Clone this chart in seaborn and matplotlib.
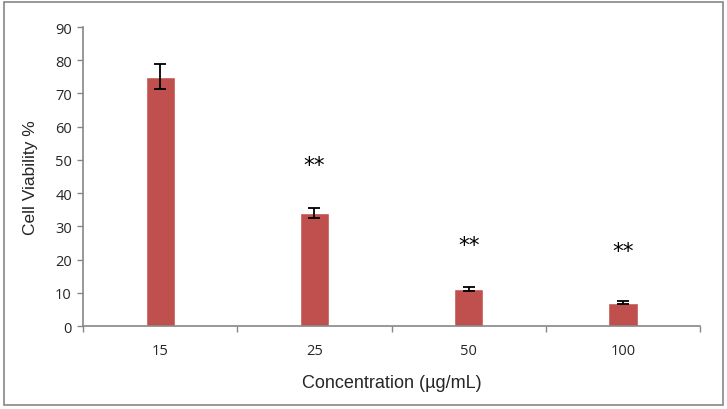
import numpy as np
import pandas as pd
import matplotlib
matplotlib.use("Agg")
import matplotlib.pyplot as plt
import seaborn as sns
from matplotlib.patches import Rectangle

sns.set_theme(style="white")
plt.rcParams['font.family'] = ['Open Sans', 'DejaVu Sans']

concentrations = ["15", "25", "50", "100"]
viability = [75, 34, 11, 7]
viability_err = [3.8, 1.6, 0.6, 0.4]
stars = ["", "**", "**", "**"]
star_y = [None, 48.5, 24.5, 22.5]

df = pd.DataFrame({"conc": concentrations, "viab": viability})

fig = plt.figure(figsize=(7.27, 4.10), dpi=100)
ax = fig.add_axes([0.1142, 0.2024, 0.8488, 0.7293])

sns.barplot(data=df, x="conc", y="viab", order=concentrations, color="#C0504D",
            saturation=1, width=0.19, errorbar=None, ax=ax)
ax.errorbar(np.arange(len(concentrations)), viability, yerr=viability_err,
            fmt="none", ecolor="black", elinewidth=1.3, capsize=4, capthick=1.3)
for i, s in enumerate(stars):
    if s:
        ax.text(i, star_y[i], s, ha="center", va="center", fontsize=15.5,
                color="black", family="DejaVu Sans")

ax.set_xlim(-0.5, len(concentrations) - 0.5)
ax.set_ylim(0, 90)
ax.set_yticks(range(0, 91, 10))
ax.set_xticks(np.arange(-0.5, len(concentrations), 1.0), minor=True)
ax.tick_params(axis="x", which="major", length=0, pad=12, labelsize=10.5)
ax.tick_params(axis="x", which="minor", length=4, width=1, color="#868686", direction="out", bottom=True)
ax.tick_params(axis="y", which="major", length=4, width=1, color="#868686", direction="out", left=True, labelsize=10.5, pad=4)
for side in ["top", "right"]:
    ax.spines[side].set_visible(False)
for side in ["left", "bottom"]:
    ax.spines[side].set_color("#868686")
    ax.spines[side].set_linewidth(1.2)

ax.set_xlabel("Concentration (µg/mL)", fontsize=13, labelpad=12, family="Liberation Sans")
ax.set_ylabel("Cell Viability %", fontsize=12.5, labelpad=12, family="Liberation Sans")

fig.patches.append(Rectangle((0.005, 0.01), 0.99, 0.982, transform=fig.transFigure,
                             fill=False, edgecolor="#868686", linewidth=1.2))

fig.savefig("out.png", dpi=100)
